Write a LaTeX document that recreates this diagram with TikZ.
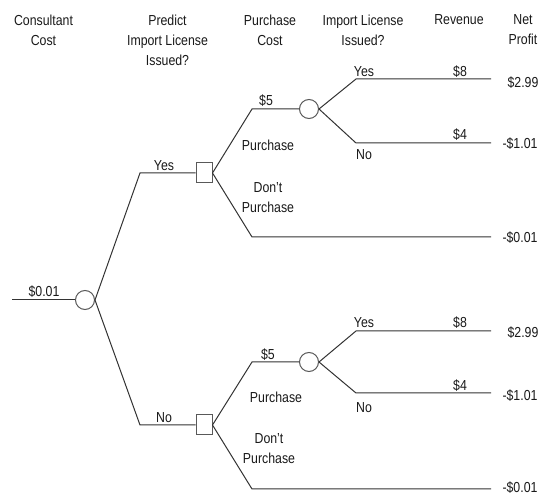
\documentclass[tikz,border=0pt]{standalone}
\usepackage{fontspec}
\setmainfont{Liberation Sans}[FakeStretch=0.85]
\begin{document}
\begin{tikzpicture}[x=1pt,y=-1pt,
  every node/.style={font=\fontsize{14.5}{20}\selectfont, inner sep=0pt, text=black!90},
  hdr/.style={align=center},
  br/.style={line width=1pt, draw=black!80},
  chance/.style={circle, draw=black!65, line width=1pt, minimum size=19pt, fill=white},
  decision/.style={rectangle, draw=black!65, line width=1pt, minimum width=16pt, minimum height=20pt, fill=white},
]
\useasboundingbox (0,0) rectangle (539,497);

% headers
\node[hdr] (h1) at (43.5,30) {Consultant\\Cost};
\node[hdr] (h2) at (167.5,40) {Predict\\Import License\\Issued?};
\node[hdr] (h3) at (270,30) {Purchase\\Cost};
\node[hdr] (h4) at (363,30) {Import License\\Issued?};
\node[hdr] (h5) at (459,20) {Revenue};
\node[hdr] (h6) at (523,30) {Net\\Profit};

% root
\coordinate (r0) at (12,300);
\node[chance] (c0) at (85,300) {};
\coordinate (by) at (140,173);
\coordinate (bn) at (140,425);
\node[decision] (d1) at (204,173) {};
\node[decision] (d2) at (204,425) {};

% upper subtree
\coordinate (p1) at (252,109);
\node[chance] (c1) at (309,109) {};
\coordinate (y1s) at (356,79);
\coordinate (y1e) at (491,79);
\coordinate (n1s) at (356,143);
\coordinate (n1e) at (491,143);
\coordinate (q1s) at (252,237);
\coordinate (q1e) at (491,237);

% lower subtree
\coordinate (p2) at (252,362);
\node[chance] (c2) at (309,362) {};
\coordinate (y2s) at (356,331);
\coordinate (y2e) at (491,331);
\coordinate (n2s) at (356,393);
\coordinate (n2e) at (491,393);
\coordinate (q2s) at (252,489);
\coordinate (q2e) at (491,489);

% branches
\draw[br] (r0) -- (c0.west);
\draw[br] (c0.east) -- (by) -- (d1.west);
\draw[br] (c0.east) -- (bn) -- (d2.west);
\draw[br] (d1.east) -- (p1) -- (c1.west);
\draw[br] (d1.east) -- (q1s) -- (q1e);
\draw[br] (c1.east) -- (y1s) -- (y1e);
\draw[br] (c1.east) -- (n1s) -- (n1e);
\draw[br] (d2.east) -- (p2) -- (c2.west);
\draw[br] (d2.east) -- (q2s) -- (q2e);
\draw[br] (c2.east) -- (y2s) -- (y2e);
\draw[br] (c2.east) -- (n2s) -- (n2e);

% labels
\node (l001) at (44,292) {\$0.01};
\node (lyes) at (164,166) {Yes};
\node (lno) at (164,418) {No};

\node (l5a) at (266,101) {\$5};
\node (lpa) at (268,145) {Purchase};
\node[hdr] (lda) at (268,197.5) {Don't\\Purchase};
\node (lya) at (364,72) {Yes};
\node (lna) at (364,155) {No};
\node (l8a) at (460,72) {\$8};
\node (l4a) at (460,135) {\$4};
\node (v1) at (523,83) {\$2.99};
\node (v2) at (520,144) {-\$1.01};
\node (v3) at (520,238) {-\$0.01};

\node (l5b) at (268,355) {\$5};
\node (lpb) at (276,397) {Purchase};
\node[hdr] (ldb) at (269,449) {Don't\\Purchase};
\node (lyb) at (364,323) {Yes};
\node (lnb) at (364,408) {No};
\node (l8b) at (460,323) {\$8};
\node (l4b) at (460,386) {\$4};
\node (v4) at (523,333) {\$2.99};
\node (v5) at (520,396) {-\$1.01};
\node (v6) at (520,488) {-\$0.01};
\end{tikzpicture}
\end{document}
